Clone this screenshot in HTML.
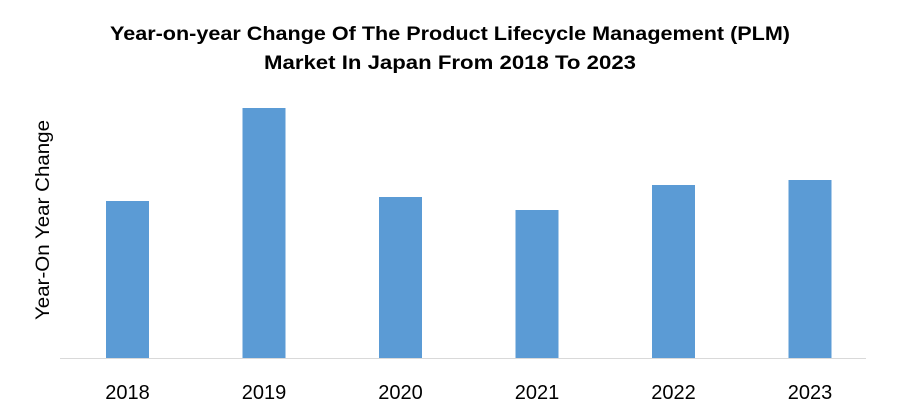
<!DOCTYPE html>
<html><head><meta charset="utf-8"><style>
html,body{margin:0;padding:0;background:#fff;}
svg{display:block;font-family:"Liberation Sans",sans-serif;}
</style></head><body>
<svg id="chart" width="900" height="420" viewBox="0 0 900 420">
<rect width="900" height="420" fill="#fff"/>
<text x="450" y="40" text-anchor="middle" font-size="19" font-weight="bold" fill="#000" textLength="680" lengthAdjust="spacingAndGlyphs">Year-on-year Change Of The Product Lifecycle Management (PLM)</text>
<text x="450" y="69" text-anchor="middle" font-size="19" font-weight="bold" fill="#000" textLength="372" lengthAdjust="spacingAndGlyphs">Market In Japan From 2018 To 2023</text>
<text transform="translate(49,220) rotate(-90)" text-anchor="middle" font-size="19" fill="#000" textLength="200" lengthAdjust="spacingAndGlyphs">Year-On Year Change</text>
<g id="bars"></g>
<line x1="60" y1="358.5" x2="866" y2="358.5" stroke="#d9d9d9" stroke-width="1"/>
<g id="ticks"></g>
</svg>
<script>
const categories = ["2018","2019","2020","2021","2022","2023"];
const values = [62.8, 100, 64.4, 59.2, 69.2, 71.2];
const yMax = 100;
const plotLeft = 59.25, bandW = 136.5, baseY = 358, plotH = 250, barW = 43;
const ns = "http://www.w3.org/2000/svg";
function xCenter(i){ return plotLeft + bandW*(i+0.5); }
function yScale(v){ return baseY - v/yMax*plotH; }
const bars = document.getElementById("bars");
const ticks = document.getElementById("ticks");
categories.forEach((c,i)=>{
  const r = document.createElementNS(ns,"rect");
  
  
  r.setAttribute("x", xCenter(i)-barW/2);
  r.setAttribute("y", yScale(values[i]));
  r.setAttribute("width", barW);
  r.setAttribute("height", baseY - yScale(values[i]));
  r.setAttribute("fill", "#5b9bd5");
  bars.appendChild(r);
  const t = document.createElementNS(ns,"text");
  
  
  t.setAttribute("x", xCenter(i));
  t.setAttribute("y", 399);
  t.setAttribute("text-anchor", "middle");
  t.setAttribute("font-size", "20");
  t.setAttribute("fill", "#000");
  t.textContent = c;
  ticks.appendChild(t);
});
</script>
</body></html>
